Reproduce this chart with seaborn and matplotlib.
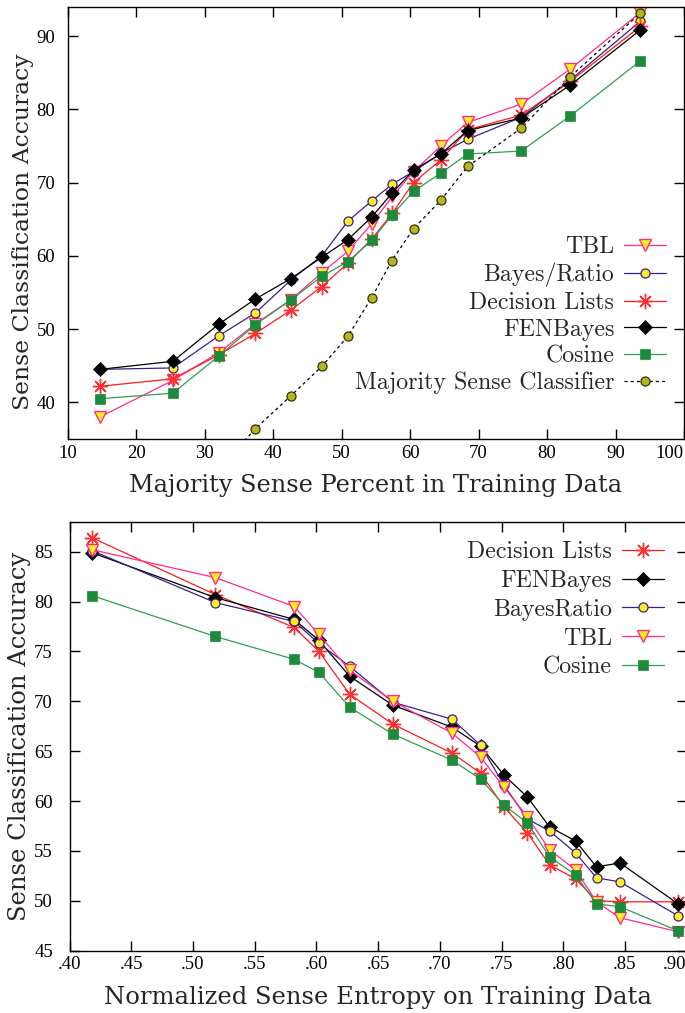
import numpy as np
import pandas as pd
import seaborn as sns
import matplotlib
matplotlib.use("Agg")
import matplotlib.pyplot as plt

# ---------------- data: top chart ----------------
top_x = [14.7, 25.35, 32.1, 37.4, 42.6, 47.1, 50.9, 54.4, 57.4, 60.5, 64.5, 68.4, 76.2, 83.4, 93.6]
top_tbl = [38.0, 43.0, 46.8, 50.7, 54.0, 57.7, 60.6, 64.4, 68.1, 71.5, 75.0, 78.2, 80.7, 85.5, 93.2]
top_bayes = [44.5, 44.7, 49.1, 52.2, 56.7, 60.0, 64.7, 67.5, 69.8, 71.5, 74.0, 75.9, 78.9, 84.0, 92.0]
top_dl = [42.2, 43.2, 46.5, 49.4, 52.6, 55.8, 59.0, 62.3, 65.8, 70.0, 73.1, 77.2, 79.2, 83.8, 91.3]
top_fen = [44.5, 45.6, 50.7, 54.1, 56.9, 59.8, 62.2, 65.3, 68.6, 71.7, 73.9, 77.1, 78.8, 83.3, 90.8]
top_cos = [40.5, 41.25, 46.35, 50.6, 54.0, 57.2, 59.2, 62.1, 65.6, 68.8, 71.3, 73.9, 74.3, 79.1, 86.6]
top_maj_x = [32.1, 37.4, 42.6, 47.1, 50.9, 54.4, 57.3, 60.5, 64.5, 68.4, 76.2, 83.4, 93.6]
top_maj = [31.0, 36.4, 40.9, 44.9, 49.0, 54.3, 59.3, 63.7, 67.6, 72.2, 77.4, 84.45, 93.1]
top_xticks = [10, 20, 30, 40, 50, 60, 70, 80, 90, 100]
top_yticks = [40, 50, 60, 70, 80, 90]

# ---------------- data: bottom chart ----------------
bot_x = [0.418, 0.518, 0.582, 0.602, 0.627, 0.662, 0.710, 0.733, 0.752, 0.771, 0.789, 0.810, 0.827, 0.846, 0.893]
bot_dl = [86.4, 80.7, 77.4, 75.0, 70.7, 67.7, 64.8, 62.8, 59.4, 56.8, 53.6, 52.2, 50.0, 49.9, 49.9]
bot_fen = [84.9, 80.4, 78.2, 76.1, 72.5, 69.6, 67.4, 65.5, 62.6, 60.4, 57.4, 56.0, 53.4, 53.8, 49.7]
bot_bayes = [85.1, 79.9, 78.0, 75.8, 73.5, 69.9, 68.2, 65.6, 61.6, 58.2, 57.0, 54.8, 52.3, 51.9, 48.5]
bot_tbl = [85.2, 82.4, 79.5, 76.7, 73.1, 70.0, 66.8, 64.4, 61.4, 58.4, 55.1, 53.1, 49.9, 48.3, 46.9]
bot_cos = [80.6, 76.5, 74.2, 72.9, 69.4, 66.7, 64.1, 62.2, 59.6, 57.8, 54.4, 52.6, 49.7, 49.4, 47.0]
bot_xticks = [0.40, 0.45, 0.50, 0.55, 0.60, 0.65, 0.70, 0.75, 0.80, 0.85, 0.90]
bot_xticklabels = [".40", ".45", ".50", ".55", ".60", ".65", ".70", ".75", ".80", ".85", ".90"]
bot_yticks = [45, 50, 55, 60, 65, 70, 75, 80, 85]

sns.set_style("ticks")
plt.rcParams["font.family"] = ["Liberation Serif", "DejaVu Serif"]

PINK = "#ff2a8c"
INDIGO = "#3a1f8c"
RED = "#ff1a1a"
GREEN = "#1e8a3c"
GREENLINE = "#2f9e50"
YELLOW = "#ffee22"
OLIVE = "#b5b526"
ASTER = (8, 2, 0)

styles = {
    "TBL": dict(color=PINK, marker="v", markersize=8.5, markerfacecolor=YELLOW, markeredgecolor=PINK, markeredgewidth=1.0),
    "Bayes": dict(color=INDIGO, marker="o", markersize=6.5, markerfacecolor=YELLOW, markeredgecolor=INDIGO, markeredgewidth=0.9),
    "DL": dict(color=RED, marker=ASTER, markersize=11, markerfacecolor=RED, markeredgecolor="#ff3030", markeredgewidth=1.0),
    "FEN": dict(color="black", marker="D", markersize=7, markerfacecolor="black", markeredgecolor="black", markeredgewidth=0.5),
    "Cos": dict(color=GREENLINE, marker="s", markersize=6.5, markerfacecolor=GREEN, markeredgecolor=GREEN, markeredgewidth=0.5),
    "Maj": dict(color="black", marker="o", markersize=6.5, markerfacecolor=OLIVE, markeredgecolor="#333300", markeredgewidth=0.9, linestyle=(0, (2.5, 2.5))),
}

fig = plt.figure(figsize=(6.85, 10.13), dpi=100)
W, H = 685.0, 1013.0

def frac_axes(left, top, right, bottom):
    return fig.add_axes([left / W, 1 - bottom / H, (right - left) / W, (bottom - top) / H])

def draw(ax, x, y, key, label):
    kw = dict(styles[key])
    sns.lineplot(x=x, y=y, ax=ax, label=label, linewidth=0.9, sort=False, **kw)

def style_axes(ax):
    for s in ax.spines.values():
        s.set_visible(True)
        s.set_linewidth(1.0)
        s.set_color("black")
    ax.tick_params(direction="in", length=7, width=1.0, top=True, right=True,
                   labelsize=13.5, colors="black")
    ax.grid(False)

# ---------------- top chart ----------------
ax1 = frac_axes(67.7, 6.7, 684.0, 439.0)
draw(ax1, top_x, top_tbl, "TBL", "TBL")
draw(ax1, top_x, top_bayes, "Bayes", "Bayes/Ratio")
draw(ax1, top_x, top_dl, "DL", "Decision Lists")
draw(ax1, top_x, top_fen, "FEN", "FENBayes")
draw(ax1, top_x, top_cos, "Cos", "Cosine")
draw(ax1, top_maj_x, top_maj, "Maj", "Majority Sense Classifier")
ax1.set_xlim(10, 100)
ax1.set_ylim(35, 94)
ax1.set_xticks(top_xticks)
ax1.set_xticklabels([str(v) for v in top_xticks])
ax1.set_yticks(top_yticks)
style_axes(ax1)
ax1.tick_params(axis="y", pad=9)
ax1.tick_params(axis="x", pad=4)
ax1.set_xlabel("Majority Sense Percent in Training Data", fontsize=17.3, family="DejaVu Serif")
ax1.set_ylabel("Sense Classification Accuracy", fontsize=16.9, family="DejaVu Serif")
ax1.xaxis.set_label_coords(0.5, -0.08)
ax1.yaxis.set_label_coords(-0.054, 0.48)
ax1.xaxis.label.set_va("top")
ax1.get_xticklabels()[-1].set_ha("right")
leg1 = ax1.legend(loc="lower right", bbox_to_anchor=(0.971, 0.103), frameon=False,
                  markerfirst=False, prop={"family": "cmr10", "size": 17.2},
                  handlelength=1.75, handletextpad=0.42, labelspacing=0.19,
                  borderaxespad=0.0, borderpad=0.0)

# ---------------- bottom chart ----------------
ax2 = frac_axes(69.6, 521.7, 686.6, 950.7)
draw(ax2, bot_x, bot_dl, "DL", "Decision Lists")
draw(ax2, bot_x, bot_fen, "FEN", "FENBayes")
draw(ax2, bot_x, bot_bayes, "Bayes", "BayesRatio")
draw(ax2, bot_x, bot_tbl, "TBL", "TBL")
draw(ax2, bot_x, bot_cos, "Cos", "Cosine")
ax2.set_xlim(0.40, 0.90)
ax2.set_ylim(45, 88)
ax2.set_xticks(bot_xticks)
ax2.set_xticklabels(bot_xticklabels)
ax2.set_yticks(bot_yticks)
style_axes(ax2)
ax2.tick_params(axis="y", pad=12)
ax2.tick_params(axis="x", pad=4)
ax2.set_xlabel("Normalized Sense Entropy on Training Data", fontsize=17.5, family="DejaVu Serif")
ax2.set_ylabel("Sense Classification Accuracy", fontsize=17.5, family="DejaVu Serif")
ax2.xaxis.set_label_coords(0.5, -0.082)
ax2.yaxis.set_label_coords(-0.063, 0.5)
ax2.xaxis.label.set_va("top")
ax2.get_xticklabels()[-1].set_ha("right")
leg2 = ax2.legend(loc="upper right", bbox_to_anchor=(0.963, 0.955), frameon=False,
                  markerfirst=False, prop={"family": "cmr10", "size": 17.2},
                  handlelength=1.75, handletextpad=0.42, labelspacing=0.28,
                  borderaxespad=0.0, borderpad=0.0)

fig.savefig("out.png", dpi=100)
